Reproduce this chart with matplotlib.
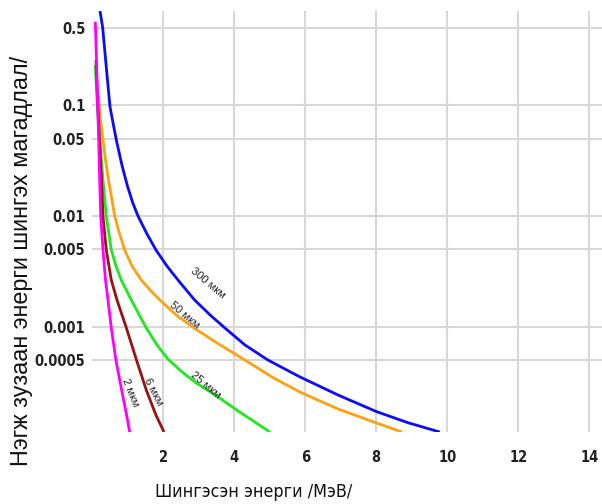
import matplotlib.pyplot as plt
from matplotlib.ticker import FixedLocator, NullLocator

# absorbed energy (MeV) vs probability per unit thickness, one curve per layer thickness
thickness = ["2 мкм", "6 мкм", "25 мкм", "50 мкм", "300 мкм"]
colors = ["#ff00ff", "#9b1010", "#1ee81e", "#ffa010", "#0a0aff"]

e_2 = [0.085, 0.118, 0.146, 0.180, 0.208, 0.237, 0.301, 0.372, 0.442, 0.535, 0.665,
       0.766, 0.865, 0.963, 1.054]
p_2 = [0.566, 0.256, 0.112, 0.0486, 0.0211, 0.01, 0.00493, 0.00264, 0.00174, 0.000973,
       0.0005, 0.000337, 0.000232, 0.000161, 0.000112]

e_6 = [0.104, 0.161, 0.217, 0.259, 0.301, 0.394, 0.535, 0.696, 0.961, 1.245, 1.521,
       1.794, 2.02]
p_6 = [0.256, 0.0908, 0.0395, 0.0211, 0.01, 0.00493, 0.00264, 0.00174, 0.000973, 0.0005,
       0.000268, 0.000159, 0.000112]

e_25 = [0.085, 0.132, 0.189, 0.245, 0.301, 0.394, 0.535, 0.668, 0.817, 1.099, 1.521,
        1.823, 2.132, 2.499, 2.893, 3.501, 4.161, 5.006]
p_25 = [0.231, 0.112, 0.0598, 0.0356, 0.0211, 0.01, 0.00493, 0.00353, 0.00264, 0.00174,
        0.000973, 0.000684, 0.00051, 0.000398, 0.000316, 0.000237, 0.000169, 0.000112]

e_50 = [0.175, 0.231, 0.301, 0.372, 0.456, 0.631, 0.752, 0.913, 1.118, 1.380, 1.654,
        1.907, 2.358, 2.865, 3.541, 4.301, 5.06, 5.85, 6.92, 8.01, 8.72]
p_50 = [0.124, 0.0736, 0.0486, 0.0321, 0.0211, 0.01, 0.00717, 0.00493, 0.00353, 0.00264,
        0.0021, 0.00174, 0.00128, 0.000973, 0.000705, 0.0005, 0.000352, 0.000257,
        0.000181, 0.000135, 0.000112]

e_300 = [0.217, 0.293, 0.414, 0.499, 0.676, 0.837, 0.989, 1.141, 1.287, 1.541, 1.794,
         2.104, 2.414, 2.885, 3.315, 3.738, 4.301, 4.949, 5.85, 6.92, 8.01, 8.89, 9.79]
p_300 = [0.711, 0.5, 0.188, 0.0964, 0.0486, 0.0286, 0.0187, 0.0131, 0.01, 0.00688,
         0.00493, 0.00353, 0.00264, 0.00174, 0.00128, 0.000973, 0.000684, 0.0005,
         0.000352, 0.000242, 0.000171, 0.000136, 0.000112]

energies = [e_2, e_6, e_25, e_50, e_300]
probs = [p_2, p_6, p_25, p_50, p_300]

# curve label anchors (energy, probability, angle)
label_e = [1.06, 1.71, 3.2, 2.61, 3.26]
label_p = [0.000257, 0.000257, 0.000297, 0.00128, 0.00248]
label_rot = [-68, -63, -40, -40, -40]

x_ticks = [2, 4, 6, 8, 10, 12, 14]
y_ticks = [0.5, 0.1, 0.05, 0.01, 0.005, 0.001, 0.0005]
y_tick_labels = ["0.5", "0.1", "0.05", "0.01", "0.005", "0.001", "0.0005"]

fig = plt.figure(figsize=(6.02, 5.04), dpi=100)
ax = fig.add_axes([92.3 / 602, 72 / 504, (602 - 92.3) / 602, 421 / 504])

for e, p, c in zip(energies[::-1], probs[::-1], colors[::-1]):
    ax.plot(e, p, color=c, lw=2, solid_capstyle="butt", solid_joinstyle="round")

for name, x, y, r in zip(thickness, label_e, label_p, label_rot):
    ax.text(x, y, name, rotation=r, rotation_mode="anchor", ha="center", va="center",
            fontsize=8, family="Liberation Sans", color="#222222")

ax.set_yscale("log")
ax.set_xlim(0, 14.36)
ax.set_ylim(1.12e-4, 0.71)

ax.xaxis.set_major_locator(FixedLocator(x_ticks))
ax.set_xticklabels([str(t) for t in x_ticks])
ax.yaxis.set_major_locator(FixedLocator(y_ticks))
ax.yaxis.set_minor_locator(NullLocator())
ax.set_yticklabels(y_tick_labels)
ax.tick_params(axis="x", length=0, pad=13)
ax.tick_params(axis="y", length=0, pad=5)
for lab in ax.get_xticklabels() + ax.get_yticklabels():
    lab.set_family("DejaVu Sans")
    lab.set_stretch("condensed")
    lab.set_fontweight("bold")
    lab.set_fontsize(10.5)
    lab.set_color("#222222")

ax.grid(True, color="#d8d8d8", lw=1.5)
ax.set_axisbelow(True)
for s in ax.spines.values():
    s.set_visible(False)

fig.text(254 / 602, 1 - 492 / 504, "Шингэсэн энерги /МэВ/", ha="center", va="center",
         fontsize=12.8, family="DejaVu Sans", stretch="condensed", color="#111111")
fig.text(22 / 602, 1 - 261 / 504, "Нэгж зузаан энерги шингэх магадлал/", ha="center",
         va="center", rotation=90, fontsize=16.8, family="Liberation Sans", color="#111111")

fig.savefig("out.png", dpi=100)
